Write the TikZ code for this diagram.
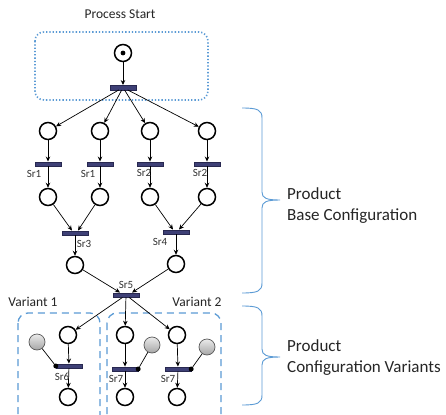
\documentclass[tikz,border=0pt]{standalone}
\usepackage{fontspec}
\setmainfont{Carlito}
\usetikzlibrary{arrows.meta}
\definecolor{officeblue}{RGB}{91,155,213}
\definecolor{barfill}{RGB}{62,64,118}
\definecolor{bardraw}{RGB}{40,40,80}
\tikzset{
  place/.style={circle,draw,line width=1.5pt,minimum size=17pt,inner sep=0pt},
  trans/.style={rectangle,fill=barfill,draw=bardraw,line width=0.4pt,minimum width=26pt,minimum height=4.5pt,inner sep=0pt},
  arc/.style={line width=0.7pt,-{Stealth[length=5pt,width=4.5pt]}},
  plainarc/.style={line width=0.7pt},
  srlabel/.style={font=\fontsize{11}{12}\selectfont,text=black!80,inner sep=0pt},
  grp/.style={draw=officeblue,line width=1.3pt,rounded corners=10pt},
  brace/.style={draw=officeblue,line width=0.9pt},
  bigtext/.style={font=\fontsize{17}{20}\selectfont,align=left,anchor=west,inner sep=0pt,text=black!85},
  grey/.style={circle,draw=black!65,line width=0.7pt,top color=black!8,bottom color=black!35,minimum size=16pt,inner sep=0pt},
  dot/.style={circle,fill=black,minimum size=5pt,inner sep=0pt}
}
\begin{document}
\begin{tikzpicture}[x=1pt,y=-1pt]
\clip (0,0) rectangle (446,414);
\fill[white] (0,0) rectangle (446,414);

% Process start
\node[font=\fontsize{13.5}{15}\selectfont,text=black!85] (ps) at (120,14) {Process Start};
\draw[grp,dotted,line width=1.6pt,rounded corners=9pt] (35,32) rectangle (208,100);
\node[place] (p0) at (123,53) {};
\fill (p0) circle (2.4pt);
\node[trans] (t0) at (123,87.5) {};
\draw[arc] (p0) -- (t0);

% row 1
\foreach \i/\x in {1/48,2/100,3/150,4/207}{
  \node[place] (a\i) at (\x,131) {};
  \node[trans] (s\i) at (\x,164) {};
  \node[place] (b\i) at (\x,197) {};
  \draw[arc] (a\i) -- (s\i);
  \draw[arc] (s\i) -- (b\i);
}
\draw[arc] (t0) -- (a1);
\draw[arc] (t0) -- (a2);
\draw[arc] (t0) -- (a3);
\draw[arc] (t0) -- (a4);
\node[srlabel] (l1) at (34,174) {Sr1};
\node[srlabel] (l2) at (88,174) {Sr1};
\node[srlabel] (l3) at (144,173) {Sr2};
\node[srlabel] (l4) at (200,173) {Sr2};

% Sr3 / Sr4
\node[trans] (s5) at (75,233) {};
\node[trans] (s6) at (176,232) {};
\draw[arc] (b1) -- ([xshift=-3pt]s5.north);
\draw[arc] (b2) -- ([xshift=3pt]s5.north);
\draw[arc] (b3) -- ([xshift=-3pt]s6.north);
\draw[arc] (b4) -- ([xshift=3pt]s6.north);
\node[srlabel] (l5) at (84,244) {Sr3};
\node[srlabel] (l6) at (160,242) {Sr4};
\node[place] (c1) at (75,265) {};
\node[place] (c2) at (176,264) {};
\draw[arc] (s5) -- (c1);
\draw[arc] (s6) -- (c2);

% Sr5
\node[trans] (s7) at (126,295) {};
\node[srlabel] (l7) at (126,285) {Sr5};
\draw[arc] (c1) -- ([xshift=-6pt]s7.north);
\draw[arc] (c2) -- ([xshift=6pt]s7.north);

% Variants
\node[font=\fontsize{13.5}{15}\selectfont,text=black!85] (v1) at (33,302) {Variant 1};
\node[font=\fontsize{13.5}{15}\selectfont,text=black!85] (v2) at (197,302) {Variant 2};
\draw[grp,dash pattern=on 7pt off 5pt] (18,313) rectangle (100,430);
\draw[grp,dash pattern=on 7pt off 5pt] (107,313) rectangle (221,430);

\foreach \i/\x in {1/68,2/125,3/177}{
  \node[place] (d\i) at (\x,335) {};
  \node[place] (e\i) at (\x,397) {};
}
\node[trans] (s8) at (69,366) {};
\node[trans] (s9) at (125,369) {};
\node[trans] (s10) at (178,369) {};
\draw[arc] (s7) -- (d1);
\draw[arc] (s7) -- (d2);
\draw[arc] (s7) -- (d3);
\draw[arc] (d1) -- (s8);
\draw[arc] (s8) -- (e1);
\draw[arc] (d2) -- (s9);
\draw[arc] (s9) -- (e2);
\draw[arc] (d3) -- (s10);
\draw[arc] (s10) -- (e3);
\node[srlabel] (l8) at (62,377) {Sr6};
\node[srlabel] (l9) at (116,379) {Sr7};
\node[srlabel] (l10) at (168,379) {Sr7};

\node[dot] (k1) at (s8.west) {};
\node[dot] (k2) at (s9.east) {};
\node[dot] (k3) at (s10.east) {};
\node[grey] (g1) at (37,342) {};
\node[grey] (g2) at (152,345) {};
\node[grey] (g3) at (207,347) {};
\draw[plainarc] (g1) -- (k1);
\draw[plainarc] (g2) -- (k2);
\draw[plainarc] (g3) -- (k3);

% Braces
\coordinate (b1top) at (242,108);
\coordinate (b1tip) at (280,200);
\coordinate (b1bot) at (242,293);
\draw[brace] (b1top) .. controls (258,108) and (262,110) .. (262,118)
  -- (262,192) .. controls (262,198) and (266,200) .. (b1tip)
  .. controls (266,200) and (262,202) .. (262,208)
  -- (262,283) .. controls (262,291) and (258,293) .. (b1bot);
\coordinate (b2top) at (242,306);
\coordinate (b2tip) at (280,357);
\coordinate (b2bot) at (242,405);
\draw[brace] (b2top) .. controls (258,306) and (262,308) .. (262,316)
  -- (262,349) .. controls (262,355) and (266,357) .. (b2tip)
  .. controls (266,357) and (262,359) .. (262,365)
  -- (262,395) .. controls (262,403) and (258,405) .. (b2bot);

\node[bigtext] (t1) at (287,206) {Product\\[1pt]Base Configuration};
\node[bigtext] (t2) at (287,358) {Product\\[1pt]Configuration Variants};
\end{tikzpicture}
\end{document}
